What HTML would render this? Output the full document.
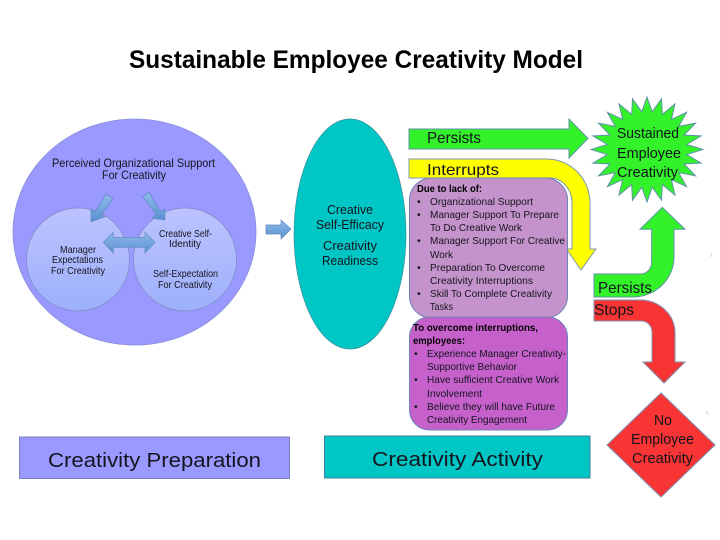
<!DOCTYPE html>
<html>
<head>
<meta charset="utf-8">
<style>
html,body{margin:0;padding:0;background:#fff;width:720px;height:540px;overflow:hidden}
svg{display:block;filter:blur(0.3px)}
text{font-family:"Liberation Sans",sans-serif;fill:#14141e}
.b{font-weight:bold}
</style>
</head>
<body>
<svg width="720" height="540" viewBox="0 0 720 540" xmlns="http://www.w3.org/2000/svg">
<defs>
<linearGradient id="c" x1="0" y1="0" x2="0" y2="1"><stop offset="0" stop-color="#bcc3ff"/><stop offset="1" stop-color="#9db0fb"/></linearGradient>
<linearGradient id="a" x1="0" y1="0" x2="0" y2="1"><stop offset="0" stop-color="#8fbbe9"/><stop offset="1" stop-color="#5a90d2"/></linearGradient>
</defs>
<rect width="720" height="540" fill="#fff"/>

<text class="b" x="129" y="68" font-size="25" textLength="454" lengthAdjust="spacingAndGlyphs" style="fill:#000">Sustainable Employee Creativity Model</text>

<ellipse cx="134.5" cy="232" rx="121.5" ry="113" fill="#9999ff" stroke="#8a8fd8" stroke-width="0.8"/>
<circle cx="78" cy="259.5" r="51.5" fill="url(#c)" stroke="#7f8ac0" stroke-width="0.7"/>
<circle cx="185" cy="259.5" r="51.5" fill="url(#c)" stroke="#7f8ac0" stroke-width="0.7"/>

<polygon points="106,194.3 113,198 101.7,215 105,216.7 91,221.7 91,209.3 95,211.7" fill="url(#a)" stroke="#5f8bbd" stroke-width="0.7"/>
<polygon points="142.7,196.7 149,192.3 160,211 165,209 165,220 152.3,218.3 156,214" fill="url(#a)" stroke="#5f8bbd" stroke-width="0.7"/>
<polygon points="103.3,242.3 113.3,232.3 113.3,237.3 145,237.3 145,232.3 155,242.3 145,253 145,247.3 113.3,247.3 113.3,253" fill="url(#a)" stroke="#5f8bbd" stroke-width="0.7"/>
<polygon points="266,225 281,225 281,220 291,229 281,239 281,234 266,234" fill="url(#a)" stroke="#5f8bbd" stroke-width="0.7"/>

<text x="52" y="167" font-size="12" textLength="163" lengthAdjust="spacingAndGlyphs">Perceived Organizational Support</text>
<text x="102" y="179" font-size="12" textLength="64" lengthAdjust="spacingAndGlyphs">For Creativity</text>
<text x="60" y="253" font-size="10.5" textLength="36" lengthAdjust="spacingAndGlyphs">Manager</text>
<text x="52" y="263" font-size="10.5" textLength="51" lengthAdjust="spacingAndGlyphs">Expectations</text>
<text x="51" y="274" font-size="10.5" textLength="54" lengthAdjust="spacingAndGlyphs">For Creativity</text>
<text x="159" y="237" font-size="10.5" textLength="53" lengthAdjust="spacingAndGlyphs">Creative Self-</text>
<text x="169" y="247" font-size="10.5" textLength="32" lengthAdjust="spacingAndGlyphs">Identity</text>
<text x="153" y="277" font-size="10.5" textLength="65" lengthAdjust="spacingAndGlyphs">Self-Expectation</text>
<text x="158" y="288" font-size="10.5" textLength="54" lengthAdjust="spacingAndGlyphs">For Creativity</text>

<ellipse cx="350" cy="234" rx="56" ry="115" fill="#00c6c6" stroke="#3a8f9a" stroke-width="0.7"/>
<text x="327" y="214" font-size="13" textLength="46" lengthAdjust="spacingAndGlyphs">Creative</text>
<text x="316" y="229" font-size="13" textLength="68" lengthAdjust="spacingAndGlyphs">Self-Efficacy</text>
<text x="323" y="250" font-size="13" textLength="54" lengthAdjust="spacingAndGlyphs">Creativity</text>
<text x="322" y="265" font-size="13" textLength="56" lengthAdjust="spacingAndGlyphs">Readiness</text>

<polygon points="409,129 569,129 569,119 588,138.5 569,158 569,149 409,149" fill="#33f22a" stroke="#5f93a8" stroke-width="1"/>
<text x="427" y="143" font-size="16" textLength="54" lengthAdjust="spacingAndGlyphs">Persists</text>

<polygon points="647,97 652.2,111.8 661.5,98.8 662.3,114.4 675,104 671.4,119.4 686.6,112.4 678.7,126.4 695.5,123.2 684,135 701.1,135.9 686.7,144.5 703,149.5 686.7,154.5 701.1,163.1 684,164 695.5,175.8 678.7,172.6 686.6,186.6 671.4,179.6 675,195 662.3,184.6 661.5,200.2 652.2,187.2 647,202 641.8,187.2 632.5,200.2 631.7,184.6 619,195 622.6,179.6 607.4,186.6 615.3,172.6 598.5,175.8 610,164 592.9,163.1 607.3,154.5 591,149.5 607.3,144.5 592.9,135.9 610,135 598.5,123.2 615.3,126.4 607.4,112.4 622.6,119.4 619,104 631.7,114.4 632.5,98.8 641.8,111.8" fill="#33f22a" stroke="#5f93a8" stroke-width="1"/>
<text x="617" y="138" font-size="14.5" textLength="62" lengthAdjust="spacingAndGlyphs">Sustained</text>
<text x="617" y="158" font-size="14.5" textLength="64" lengthAdjust="spacingAndGlyphs">Employee</text>
<text x="617" y="177" font-size="14.5" textLength="61" lengthAdjust="spacingAndGlyphs">Creativity</text>

<path d="M409,159 L546.7,159 A43.3,44 0 0 1 590,203 L590,249 L596,249 L581,270 L566.5,249 L572,249 L572,203 A22,25 0 0 0 550,178 L409,178 Z" fill="#ffff00" stroke="#7f9ab0" stroke-width="1"/>
<text x="427" y="175" font-size="16" textLength="72" lengthAdjust="spacingAndGlyphs">Interrupts</text>

<rect x="409.5" y="178" width="158" height="140" rx="22" ry="22" fill="#c593cb" stroke="#6d83b8" stroke-width="1"/>
<text class="b" x="417" y="192" font-size="10.5" textLength="65" lengthAdjust="spacingAndGlyphs" style="fill:#000">Due to lack of:</text>
<g font-size="10.5">
<text x="417" y="205">•</text>
<text x="430" y="205" textLength="103" lengthAdjust="spacingAndGlyphs">Organizational Support</text>
<text x="417" y="218">•</text>
<text x="430" y="218" textLength="129" lengthAdjust="spacingAndGlyphs">Manager Support To Prepare</text>
<text x="430" y="231" textLength="92" lengthAdjust="spacingAndGlyphs">To Do Creative Work</text>
<text x="417" y="244">•</text>
<text x="430" y="244" textLength="135" lengthAdjust="spacingAndGlyphs">Manager Support For Creative</text>
<text x="430" y="258" textLength="23" lengthAdjust="spacingAndGlyphs">Work</text>
<text x="417" y="271">•</text>
<text x="430" y="271" textLength="115" lengthAdjust="spacingAndGlyphs">Preparation To Overcome</text>
<text x="430" y="284" textLength="103" lengthAdjust="spacingAndGlyphs">Creativity Interruptions</text>
<text x="417" y="297">•</text>
<text x="430" y="297" textLength="122" lengthAdjust="spacingAndGlyphs">Skill To Complete Creativity</text>
<text x="430" y="310" textLength="23" lengthAdjust="spacingAndGlyphs">Tasks</text>
</g>

<rect x="409.5" y="317" width="158" height="113" rx="20" ry="20" fill="#c661cc" stroke="#6d83b8" stroke-width="1"/>
<text class="b" x="413" y="331" font-size="10.5" textLength="125" lengthAdjust="spacingAndGlyphs" style="fill:#000">To overcome interruptions,</text>
<text class="b" x="413" y="344" font-size="10.5" textLength="52" lengthAdjust="spacingAndGlyphs" style="fill:#000">employees:</text>
<g font-size="10.5">
<text x="414" y="357">•</text>
<text x="427" y="357" textLength="139" lengthAdjust="spacingAndGlyphs">Experience Manager Creativity-</text>
<text x="427" y="370" textLength="90" lengthAdjust="spacingAndGlyphs">Supportive Behavior</text>
<text x="414" y="383">•</text>
<text x="427" y="383" textLength="132" lengthAdjust="spacingAndGlyphs">Have sufficient Creative Work</text>
<text x="427" y="397" textLength="55" lengthAdjust="spacingAndGlyphs">Involvement</text>
<text x="414" y="410">•</text>
<text x="427" y="410" textLength="128" lengthAdjust="spacingAndGlyphs">Believe they will have Future</text>
<text x="427" y="423" textLength="100" lengthAdjust="spacingAndGlyphs">Creativity Engagement</text>
</g>

<path d="M594,274 L640,274 A11,12 0 0 0 651.7,262 L651.7,229.3 L640,229.3 L662.3,207.3 L685,229.3 L674,229.3 L674,257 A41,40 0 0 1 633,297 L594,297 Z" fill="#33f22a" stroke="#5f93a8" stroke-width="1"/>
<text x="598" y="293" font-size="16" textLength="54" lengthAdjust="spacingAndGlyphs">Persists</text>

<path d="M594,300 L640,300 A35,33 0 0 1 675,333 L675,362 L685,362 L664,383 L643,362 L652,362 L652,332 A10.5,11 0 0 0 641.7,321 L594,321 Z" fill="#f83434" stroke="#7f8fb0" stroke-width="1"/>
<text x="594" y="315" font-size="16" textLength="40" lengthAdjust="spacingAndGlyphs">Stops</text>

<polygon points="661,393 715,445 661,497 607,445" fill="#f83434" stroke="#7f8fb0" stroke-width="1"/>
<text x="654" y="425" font-size="14.5" textLength="18" lengthAdjust="spacingAndGlyphs">No</text>
<text x="631" y="444" font-size="14.5" textLength="63" lengthAdjust="spacingAndGlyphs">Employee</text>
<text x="632" y="463" font-size="14.5" textLength="61" lengthAdjust="spacingAndGlyphs">Creativity</text>

<rect x="19.5" y="437" width="270" height="41.5" fill="#9999ff" stroke="#7f7fc0" stroke-width="1"/>
<text x="48" y="467" font-size="20" textLength="213" lengthAdjust="spacingAndGlyphs">Creativity Preparation</text>
<rect x="324.5" y="436" width="265.5" height="42" fill="#00c6c6" stroke="#3f7f9f" stroke-width="1"/>
<text x="372" y="466" font-size="20" textLength="171" lengthAdjust="spacingAndGlyphs">Creativity Activity</text>

<path d="M710.5,253 L711.5,255 L710.5,257" fill="none" stroke="#c8c8c8" stroke-width="0.7"/>
<path d="M707.5,411 L706.5,413 L707.5,415" fill="none" stroke="#c8c8c8" stroke-width="0.7"/>
</svg>
</body>
</html>
